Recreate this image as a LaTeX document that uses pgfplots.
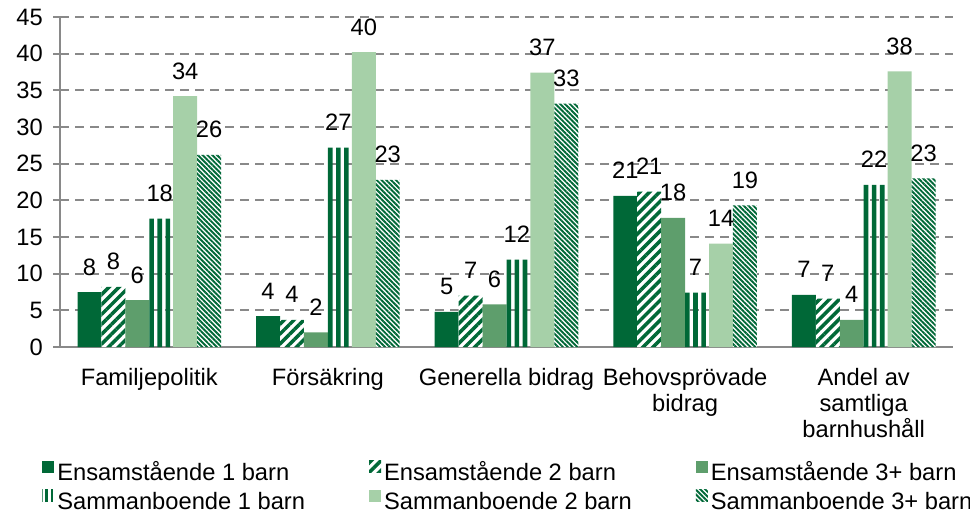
\documentclass[border=0pt]{standalone}
\usepackage{pgfplots}
\pgfplotsset{compat=1.18}
\usepackage{fontspec}
\setmainfont{Liberation Sans}
\usetikzlibrary{patterns.meta}
\definecolor{dg}{RGB}{0,104,55}
\definecolor{mg}{RGB}{94,158,108}
\definecolor{lg}{RGB}{166,208,168}
\definecolor{axc}{RGB}{137,137,137}
\begin{document}
\fontsize{11.85bp}{13bp}\selectfont
\begin{tikzpicture}
\begin{axis}[
 at={(0,0)}, anchor=south west,
 scale only axis, width=446.5bp, height=165bp,
 xmin=-0.5, xmax=4.5, ymin=0, ymax=45,
 ytick={0,5,...,45},
 xtick={0,1,2,3,4},
 xticklabels={Familjepolitik, Försäkring, Generella bidrag, {Behovsprövade\\bidrag}, {Andel av\\samtliga\\barnhushåll}},
 xticklabel style={align=center, yshift=-3bp, font=\fontsize{11.85bp}{13bp}\selectfont},
 yticklabel style={xshift=-1bp, font=\fontsize{11.85bp}{13bp}\selectfont},
 axis x line*=bottom, axis y line*=left,
 axis line style={axc, line width=1bp, -},
 x tick style={draw=none},
 y tick style={axc, line width=1bp},
 tick align=outside, major tick length=3.5bp,
 ymajorgrids, grid style={axc, line width=1bp, dash pattern=on 4.5bp off 3bp},
 /pgf/number format/assume math mode=true,
 ybar=0pt, bar width=0.134,
 nodes near coords, point meta=explicit symbolic,
 every node near coord/.append style={anchor=base, yshift=8.5bp, inner sep=0pt, font=\fontsize{11.85bp}{13bp}\selectfont},
 legend columns=3,
 legend cell align=left,
 legend style={draw=none, fill=none, at={(0,0)}, anchor=north west, xshift=-9bp, yshift=-56bp, inner sep=0pt,
   /tikz/every even column/.append style={column sep=30.5bp},
   nodes={inner xsep=1.5bp, inner ysep=1.5bp, text height=9bp, text depth=2.5bp, font=\fontsize{11.85bp}{13bp}\selectfont}},
 legend image code/.code={\path[#1] (0bp,0.5bp) rectangle (6bp,6.5bp);},
 every axis plot/.append style={draw=none},
]
\addplot[fill=dg, bar shift=-0.335] coordinates {(0,7.5)[8] (1,4.2)[4] (2,4.8)[5] (3,20.6)[21] (4,7.1)[7]};
\addlegendentry{Ensamstående 1 barn}
\addplot[fill=white, bar shift=-0.201, postaction={pattern={Lines[angle=45, distance=3.5bp, line width=1.75bp]}, pattern color=dg}] coordinates {(0,8.2)[8] (1,3.7)[4] (2,7.0)[7] (3,21.2)[21] (4,6.6)[7]};
\addlegendentry{Ensamstående 2 barn}
\addplot[fill=mg, bar shift=-0.067] coordinates {(0,6.4)[6] (1,2.0)[2] (2,5.8)[6] (3,17.6)[18] (4,3.7)[4]};
\addlegendentry{Ensamstående 3+ barn}
% Sammanboende 1 barn: vertical stripes drawn as three narrow bars
\addplot[fill=dg, bar width=0.0258, bar shift=0.0129, forget plot] coordinates {(0,17.5) (1,27.2) (2,11.9) (3,7.4) (4,22.1)};
\addplot[fill=dg, bar width=0.0258, bar shift=0.1038, forget plot] coordinates {(0,17.5) (1,27.2) (2,11.9) (3,7.4) (4,22.1)};
\addplot[fill=dg, bar width=0.0258, bar shift=0.0583,
  legend image code/.code={\path[fill=white, postaction={pattern={Lines[angle=90, distance=2.6bp, line width=1.4bp]}, pattern color=dg}] (0bp,0.5bp) rectangle (6bp,6.5bp);}]
  coordinates {(0,17.5)[18] (1,27.2)[27] (2,11.9)[12] (3,7.4)[7] (4,22.1)[22]};
\addlegendentry{Sammanboende 1 barn}
\addplot[fill=lg, bar shift=0.201] coordinates {(0,34.2)[34] (1,40.2)[40] (2,37.4)[37] (3,14.1)[14] (4,37.6)[38]};
\addlegendentry{Sammanboende 2 barn}
\addplot[fill=white, bar shift=0.335, postaction={pattern={Lines[angle=-45, distance=1.7bp, line width=0.95bp]}, pattern color=dg}] coordinates {(0,26.2)[26] (1,22.8)[23] (2,33.2)[33] (3,19.3)[19] (4,23.0)[23]};
\addlegendentry{Sammanboende 3+ barn}
\end{axis}
\pgfresetboundingbox
\path (-30bp,-84bp) rectangle (455bp,173.5bp);
\end{tikzpicture}
\end{document}
